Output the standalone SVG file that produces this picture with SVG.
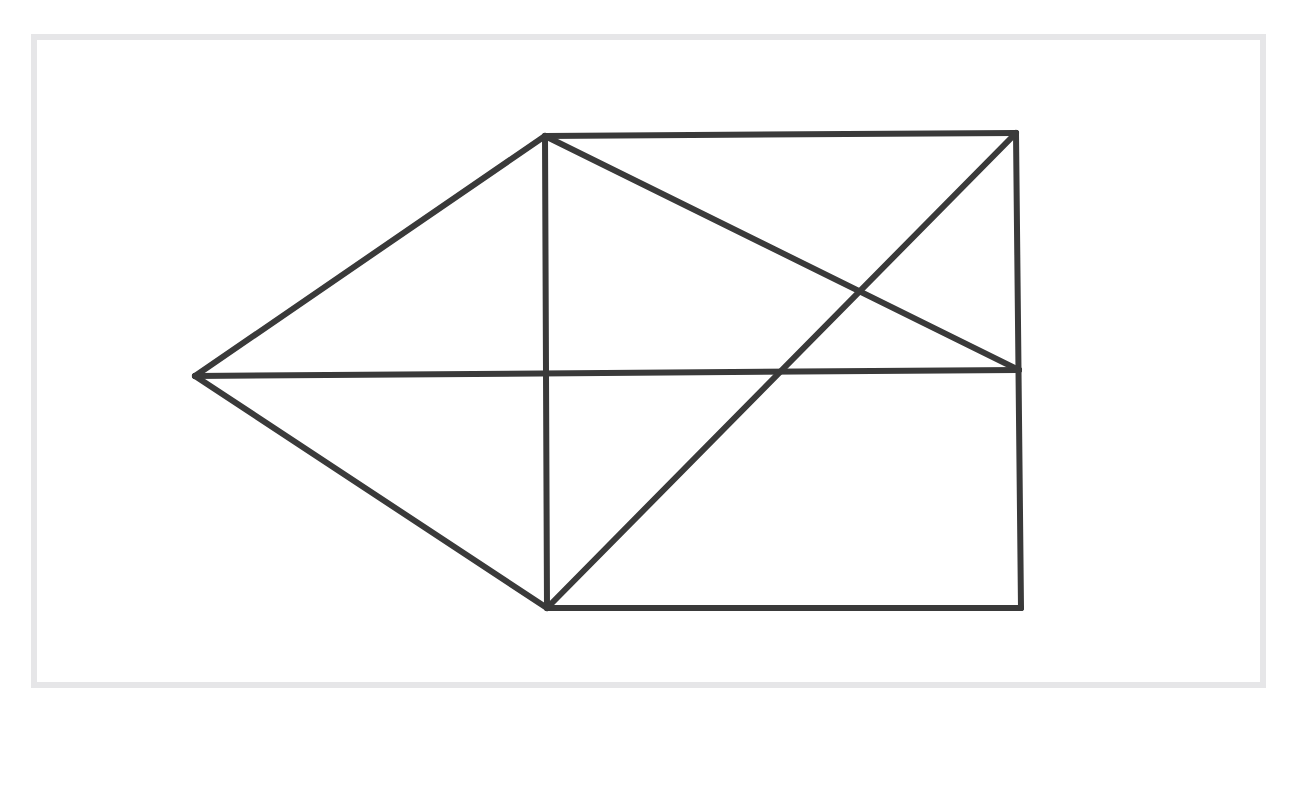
<svg xmlns="http://www.w3.org/2000/svg" width="1314" height="797" viewBox="0 0 1314 797">
<style>
.frame{fill:#ffffff;stroke:#e6e6e8;stroke-width:6}
.edge{stroke:#3a3a3a;stroke-width:6;stroke-linecap:round;fill:none}
</style>
<rect width="1314" height="797" fill="#ffffff"/>
<rect class="frame" x="34" y="37" width="1229" height="648"/>
<g id="nodes">
<g id="A"><circle cx="195" cy="376" r="3" fill="#3a3a3a"/></g>
<g id="B"><circle cx="545" cy="136" r="3" fill="#3a3a3a"/></g>
<g id="C"><circle cx="1016" cy="133" r="3" fill="#3a3a3a"/></g>
<g id="D"><circle cx="1019" cy="370" r="3" fill="#3a3a3a"/></g>
<g id="E"><circle cx="1021" cy="608" r="3" fill="#3a3a3a"/></g>
<g id="F"><circle cx="547" cy="608" r="3" fill="#3a3a3a"/></g>
</g>
<g id="connectors">
<line class="edge" x1="195" y1="376" x2="545" y2="136"/>
<line class="edge" x1="195" y1="376" x2="547" y2="608"/>
<line class="edge" x1="195" y1="376" x2="1019" y2="370"/>
<line class="edge" x1="545" y1="136" x2="547" y2="608"/>
<line class="edge" x1="545" y1="136" x2="1016" y2="133"/>
<line class="edge" x1="1016" y1="133" x2="1021" y2="608"/>
<line class="edge" x1="547" y1="608" x2="1021" y2="608"/>
<line class="edge" x1="545" y1="136" x2="1019" y2="370"/>
<line class="edge" x1="547" y1="608" x2="1016" y2="133"/>
</g>
</svg>
